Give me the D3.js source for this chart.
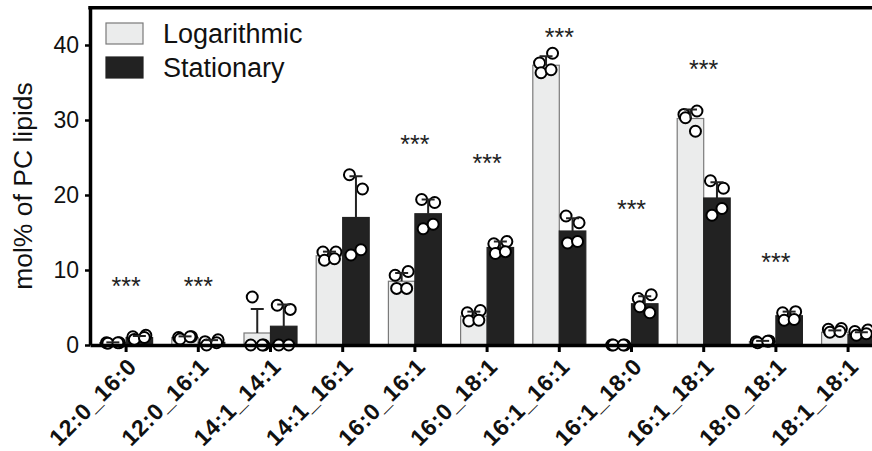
<html>
<head>
<style>
  body { margin: 0; background: #fff; }
  svg text { font-family: "Liberation Sans", Arial, sans-serif; }
</style>
</head>
<body>
<div id="chart"></div>
<script src="https://d3js.org/d3.v7.min.js"></script>
<script>
var categories = ['12:0_16:0','12:0_16:1','14:1_14:1','14:1_16:1','16:0_16:1','16:0_18:1',
                  '16:1_16:1','16:1_18:0','16:1_18:1','18:0_18:1','18:1_18:1'];
var seriesNames = ['Logarithmic','Stationary'];

// bar heights (mean) and SD
var logMean  = [0.3, 1.0, 1.6, 11.9, 8.5, 3.85, 37.3, 0.0, 30.2, 0.45, 1.7];
var logSd    = [0.05, 0.15, 3.2, 0.55, 1.1, 0.6, 1.2, 0.0, 1.2, 0.1, 0.25];
var statMean = [1.0, 0.35, 2.5, 17.0, 17.5, 13.0, 15.2, 5.5, 19.6, 3.9, 1.4];
var statSd   = [0.2, 0.3, 2.9, 5.5, 1.9, 0.8, 1.7, 1.0, 2.1, 0.55, 0.3];

// individual replicates
var logPoints = [
  [0.3, 0.3, 0.25, 0.3],
  [1.0, 1.1, 0.8, 1.1],
  [0.0, 0.0, 6.4, 0.0],
  [12.4, 12.4, 11.3, 11.5],
  [9.3, 9.8, 7.55, 7.55],
  [4.3, 4.6, 3.2, 3.3],
  [37.6, 38.9, 36.3, 36.7],
  [0.0, 0.0, 0.0, 0.0],
  [30.75, 31.2, 30.3, 28.5],
  [0.45, 0.55, 0.3, 0.5],
  [2.1, 2.2, 1.7, 1.8]
];
var statPoints = [
  [1.1, 1.3, 0.75, 1.0],
  [0.45, 0.7, 0.0, 0.3],
  [5.3, 4.75, 0.0, 0.0],
  [22.7, 20.8, 12.0, 12.7],
  [19.4, 19.0, 15.5, 16.1],
  [13.5, 13.8, 12.2, 12.45],
  [17.2, 16.3, 13.6, 13.8],
  [6.2, 6.7, 5.1, 4.3],
  [21.9, 20.9, 17.3, 18.2],
  [4.3, 4.45, 3.3, 3.4],
  [1.8, 2.0, 1.3, 1.5]
];

// significance marks and the level they are drawn at
var sigLabel = ['***','***','','','***','***','***','***','***','***',''];
var sigLevel = [8.4, 8.4, 0, 0, 27.4, 24.8, 41.6, 18.7, 37.3, 11.6, 0];

var yTicks = [0, 10, 20, 30, 40];

var width = 872, height = 451;
var svg = d3.select('#chart').append('svg')
  .attr('width', width)
  .attr('height', height);

var x = d3.scaleBand().domain(categories).range([90, 90 + 11 * 72.2]).padding(0);
var sub = d3.scaleBand().domain(seriesNames).range([x.bandwidth() / 2 - 26.5, x.bandwidth() / 2 + 26.5]);
var y = d3.scaleLinear().domain([0, 45]).range([345, 7.5]);

var fills = { 'Logarithmic': '#ebecec', 'Stationary': '#222222' };
var strokes = { 'Logarithmic': '#7a7a7a', 'Stationary': '#222222' };

var rows = [];
categories.forEach(function(c, i){
  rows.push({ cat: c, s: 'Logarithmic', mean: logMean[i], sd: logSd[i], pts: logPoints[i] });
  rows.push({ cat: c, s: 'Stationary', mean: statMean[i], sd: statSd[i], pts: statPoints[i] });
});

// bars
svg.append('g').selectAll('rect')
  .data(rows)
  .enter()
  .append('rect')
  .attr('x', function(d){ return x(d.cat) + sub(d.s); })
  .attr('width', sub.bandwidth())
  .attr('y', function(d){ return y(d.mean); })
  .attr('height', function(d){ return y(0) - y(d.mean); })
  .attr('fill', function(d){ return fills[d.s]; })
  .attr('stroke', function(d){ return strokes[d.s]; })
  .attr('stroke-width', 1.2);

// points
var jitter = [-6.5, 6.5, -5, 5];
var pts = [];
rows.forEach(function(r){
  r.pts.forEach(function(v, k){
    pts.push({ cx: x(r.cat) + sub(r.s) + sub.bandwidth() / 2 + jitter[k], v: v });
  });
});
svg.append('g').selectAll('circle')
  .data(pts)
  .enter()
  .append('circle')
  .attr('cx', function(d){ return d.cx; })
  .attr('cy', function(d){ return y(d.v); })
  .attr('r', 5.5)
  .attr('fill', '#fff')
  .attr('stroke', '#000')
  .attr('stroke-width', 2);

// error bars (upper only)
var eb = svg.append('g').attr('stroke', '#222').attr('stroke-width', 2);
rows.filter(function(d){ return d.sd > 0; }).forEach(function(d){
  var cx = x(d.cat) + sub(d.s) + sub.bandwidth() / 2;
  eb.append('line').attr('x1', cx).attr('x2', cx)
    .attr('y1', y(d.mean)).attr('y2', y(d.mean + d.sd));
  eb.append('line').attr('x1', cx - 6.5).attr('x2', cx + 6.5)
    .attr('y1', y(d.mean + d.sd)).attr('y2', y(d.mean + d.sd));
});

// significance stars
svg.append('g').selectAll('text')
  .data(categories)
  .enter()
  .append('text')
  .attr('x', function(c){ return x(c) + x.bandwidth() / 2; })
  .attr('y', function(c, i){ return y(sigLevel[i]) + 13; })
  .attr('text-anchor', 'middle')
  .attr('font-size', '25px')
  .attr('fill', '#222')
  .text(function(c, i){ return sigLabel[i]; });

// y axis
var yAxis = svg.append('g')
  .attr('transform', 'translate(90,0)')
  .call(d3.axisLeft(y).tickValues(yTicks).tickSize(5).tickSizeOuter(0).tickPadding(6));
yAxis.select('.domain').attr('stroke-width', 3.5);
yAxis.selectAll('.tick line').attr('stroke-width', 2.5);
yAxis.selectAll('.tick text').attr('font-size', '23px').attr('fill', '#111')
  .attr('font-family', '"Liberation Sans", Arial, sans-serif');

// x axis
var xAxis = svg.append('g')
  .attr('transform', 'translate(0,345)')
  .call(d3.axisBottom(x).tickSize(7).tickSizeOuter(0).tickFormat(''));
xAxis.select('.domain').attr('stroke-width', 3.5);
xAxis.selectAll('.tick line').attr('stroke-width', 3);

svg.append('g').selectAll('text')
  .data(categories)
  .enter()
  .append('text')
  .attr('text-anchor', 'end')
  .attr('font-size', '23px')
  .attr('font-weight', 'bold')
  .attr('letter-spacing', '0.8px')
  .attr('fill', '#111')
  .attr('transform', function(c){
    return 'translate(' + (x(c) + x.bandwidth() / 2 + 12) + ',368) rotate(-45)';
  })
  .text(function(c){ return c; });

// top frame
svg.append('line')
  .attr('x1', 88.25).attr('x2', 884)
  .attr('y1', 7.8).attr('y2', 7.8)
  .attr('stroke', '#000').attr('stroke-width', 3.5);

// y title
svg.append('text')
  .attr('transform', 'translate(32,186) rotate(-90)')
  .attr('text-anchor', 'middle')
  .attr('font-size', '26.5px')
  .attr('fill', '#111')
  .text('mol% of PC lipids');

// legend
var legend = svg.append('g').selectAll('g')
  .data(seriesNames)
  .enter()
  .append('g')
  .attr('transform', function(d, i){ return 'translate(106,' + (23 + i * 34) + ')'; });
legend.append('rect')
  .attr('width', 37).attr('height', 21)
  .attr('fill', function(d){ return fills[d]; })
  .attr('stroke', function(d){ return strokes[d]; })
  .attr('stroke-width', 1.2);
legend.append('text')
  .attr('x', 57).attr('y', 20)
  .attr('font-size', '27px')
  .attr('fill', '#111')
  .text(function(d){ return d; });
</script>
</body>
</html>
